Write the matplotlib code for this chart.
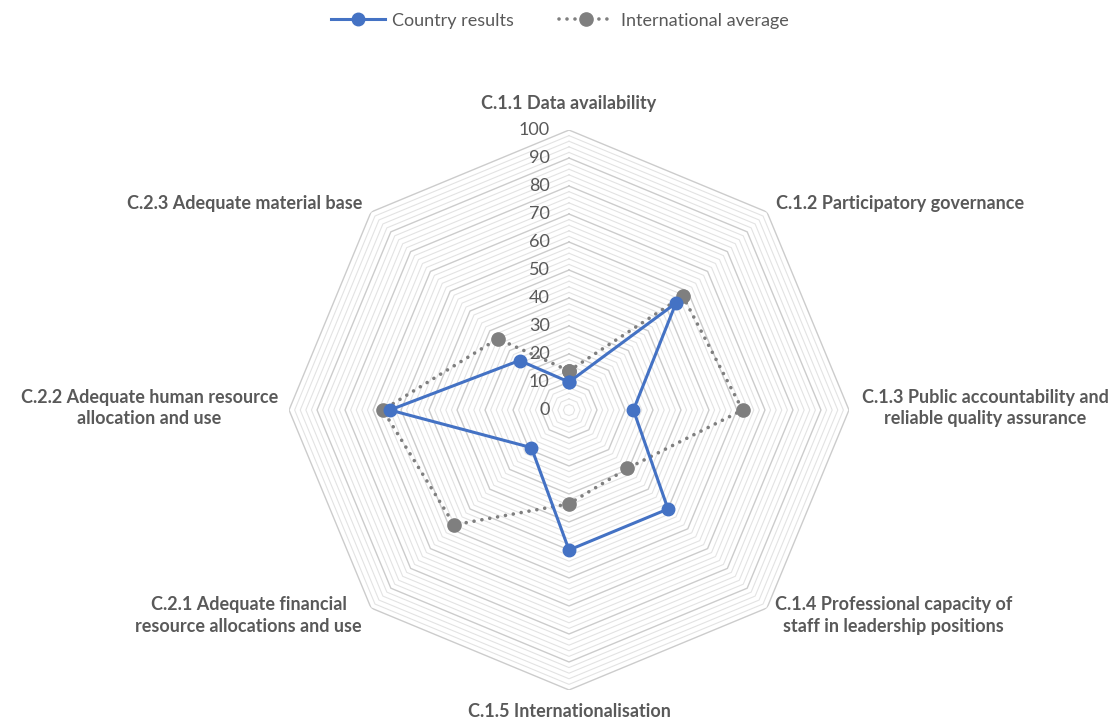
import numpy as np
import matplotlib.pyplot as plt

categories = ["C.1.1 Data availability",
              "C.1.2 Participatory governance",
              "C.1.3 Public accountability and\nreliable quality assurance",
              "C.1.4 Professional capacity of\nstaff in leadership positions",
              "C.1.5 Internationalisation",
              "C.2.1 Adequate financial\nresource allocations and use",
              "C.2.2 Adequate human resource\nallocation and use",
              "C.2.3 Adequate material base"]
country = [10, 54, 23, 50, 50, 19, 64, 25]
intl_avg = [14, 57.5, 62, 29.5, 33.5, 58, 66.5, 36]
r_ticks = [0, 10, 20, 30, 40, 50, 60, 70, 80, 90, 100]

plt.rcParams['font.family'] = ['Lato', 'DejaVu Sans']
txt_col = "#595959"
blue = "#4472C4"
gray = "#7F7F7F"

n = len(categories)
theta = np.arange(n) * 2 * np.pi / n
theta_c = np.append(theta, theta[0])

fig = plt.figure(figsize=(11.19, 7.23), dpi=100)
ax = fig.add_axes([0.2583, 0.0456, 0.5004, 0.7746], projection="polar")
ax.set_theta_zero_location("N")
ax.set_theta_direction(-1)
ax.set_ylim(0, 100)
ax.grid(False)
ax.spines["polar"].set_visible(False)
ax.set_xticks([])
ax.set_yticks([])
ax.patch.set_alpha(0)

# octagon grid: major every 10, minor every 2
for v in range(2, 101, 2):
    major = v % 10 == 0
    ax.plot(theta_c, [v] * (n + 1), color="#CCCCCC" if major else "#E3E3E3",
            lw=1.0 if major else 0.8, zorder=1)

# value labels along top axis
for v in r_ticks:
    ax.annotate(str(v), (0, v), xytext=(-14, 0), textcoords="offset points",
                ha="right", va="center", fontsize=13, color=txt_col)

ax.plot(theta_c, intl_avg + intl_avg[:1], color=gray, lw=2.6,
        linestyle=(0, (0.01, 2.2)), dash_capstyle="round", marker="o",
        markersize=9.5, label="International average", zorder=3)
ax.plot(theta_c, country + country[:1], color=blue, lw=2.2, marker="o",
        markersize=9, label="Country results", zorder=4)

# category labels, offsets in pixels from the outer vertex
offs = [(0, 27, "center"), (9, 9, "left"), (13, 2, "left"), (8, -7.5, "left"),
        (0, -22, "center"), (-9, -7.5, "right"), (-11, 2, "right"), (-9, 9, "right")]
for t, lab, (dx, dy, ha) in zip(theta, categories, offs):
    ax.annotate(lab, (t, 100), xytext=(dx / 1.389, dy / 1.389),
                textcoords="offset points", ha=ha, va="center",
                multialignment="center", fontsize=13, fontweight="bold",
                color=txt_col, linespacing=1.35, annotation_clip=False)

h, l = ax.get_legend_handles_labels()
fig.legend(h[::-1], l[::-1], loc="upper center", bbox_to_anchor=(0.5, 1.005),
           ncol=2, frameon=False, fontsize=13, labelcolor=txt_col,
           handlelength=3.0, columnspacing=2.5, handletextpad=0.4)

fig.savefig("out.png", dpi=100)
